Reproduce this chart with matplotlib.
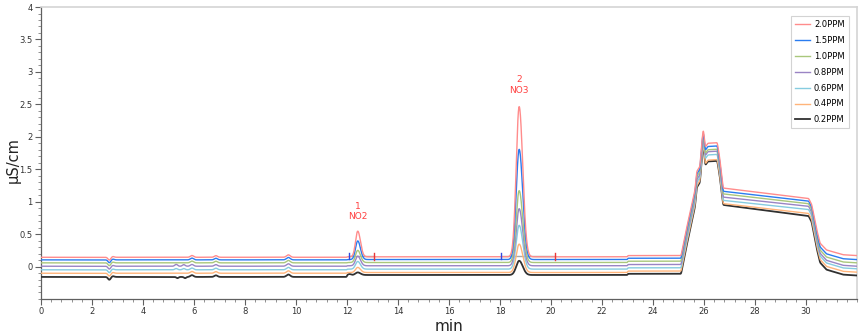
import numpy as np
import matplotlib
matplotlib.use("Agg")
import matplotlib.pyplot as plt
from matplotlib.ticker import MultipleLocator, FormatStrFormatter

# standards, top to bottom
labels = ["2.0PPM", "1.5PPM", "1.0PPM", "0.8PPM", "0.6PPM", "0.4PPM", "0.2PPM"]
colors = ["#ff8c8c", "#2a7cf0", "#a9c77c", "#9a84c4", "#86cce0", "#ffb47a", "#303030"]

# baseline level at the start of the run and just before the system peak (uS/cm)
base_start = [0.143, 0.103, 0.057, 0.005, -0.050, -0.103, -0.160]
base_mid = [0.150, 0.108, 0.062, 0.012, -0.040, -0.092, -0.130]
base_late = [0.169, 0.128, 0.082, 0.031, -0.020, -0.070, -0.112]

# NO2 (peak 1) and NO3 (peak 2) heights above baseline
no2_height = [0.40, 0.29, 0.19, 0.15, 0.12, 0.08, 0.04]
no3_height = [2.33, 1.71, 1.115, 0.885, 0.68, 0.44, 0.22]
no2_time = 12.42
no3_time = 18.75

# water / system hump at 25-31 min
hump_apex = [2.13, 2.09, 2.05, 2.01, 1.97, 1.92, 1.90]
hump_shoulder = [1.90, 1.85, 1.80, 1.77, 1.72, 1.64, 1.62]
plateau_start = [1.21, 1.16, 1.12, 1.07, 1.02, 0.97, 0.95]
plateau_end = [1.04, 1.00, 0.96, 0.92, 0.87, 0.81, 0.77]
base_end = [0.169, 0.107, 0.057, 0.005, -0.035, -0.087, -0.138]

# small baseline disturbances (time, height, width) shared by all traces
blips = [(2.68, -0.045, 0.05), (2.82, 0.012, 0.05), (5.92, 0.028, 0.06),
         (6.86, 0.025, 0.06), (9.70, 0.038, 0.07)]
# extra blips on the lower traces
extra_blips = {3: [(5.30, 0.03, 0.05), (5.60, 0.025, 0.05)],
               4: [(5.30, 0.02, 0.05), (5.60, 0.02, 0.05)],
               6: [(5.35, -0.02, 0.04), (5.65, -0.02, 0.04), (12.10, 0.015, 0.05)]}

# integration marks: (start, end) of each peak window
windows = [(12.08, 13.06), (18.04, 20.16)]

t = np.arange(0, 32.0001, 0.005)


def peak(t, t0, h, sl, sr):
    s = np.where(t < t0, sl, sr)
    return h * np.exp(-0.5 * ((t - t0) / s) ** 2)


def trace(i):
    y = np.where(t < 12.0, base_start[i], base_mid[i])
    y = np.where(t > 23.0, base_late[i], y)
    for tb, hb, wb in blips + extra_blips.get(i, []):
        y = y + peak(t, tb, hb, wb, wb)
    y = y + peak(t, no2_time, no2_height[i], 0.085, 0.105)
    y = y + peak(t, no3_time, no3_height[i], 0.115, 0.14)

    # hump as a polyline through the read levels
    b, a, s = base_late[i], hump_apex[i], hump_shoulder[i]
    ps, pe, e = plateau_start[i], plateau_end[i], base_end[i]
    d = pe - e
    ht = [25.10, 25.30, 25.50, 25.65, 25.71, 25.84, 25.91, 25.97, 26.05, 26.15,
          26.52, 26.62, 26.75, 30.10, 30.22, 30.42, 30.55, 30.80, 31.45, 32.0]
    hy = [b, b + 0.20 * (a - b), b + 0.38 * (a - b), b + 0.52 * (a - b),
          b + 0.66 * (a - b), b + 0.70 * (a - b), b + 0.88 * (a - b), a,
          s - 0.06, s, s + 0.01, s - 0.35 * (s - ps), ps, pe + 0.01, pe - 0.08,
          e + 0.46 * d, e + 0.22 * d, e + 0.10 * d, e + 0.015 * d, e]
    m = t >= ht[0]
    y = np.where(m, np.interp(t, ht, hy), y)
    # soften the polyline corners
    k = np.exp(-0.5 * (np.arange(-8, 9) / 3.0) ** 2)
    k /= k.sum()
    ys = np.convolve(np.pad(y, 8, mode="edge"), k, mode="same")[8:-8]
    return ys


fig = plt.figure(figsize=(8.67, 3.35), dpi=100)
ax = fig.add_axes([0.0473, 0.1075, 0.9412, 0.8715])

for i in range(len(labels))[::-1]:
    lw = 1.3 if i == 6 else 1.0
    ax.plot(t, trace(i), color=colors[i], lw=lw, label=labels[i], zorder=3 + (6 - i) * 0.01)

# integration baseline and start/end ticks
for ws, we in windows:
    lvl = base_mid[0] + 0.005
    ax.plot([ws, we], [lvl, lvl], color="#a8a8a8", lw=1.0, zorder=2)
    ax.plot([ws, ws], [lvl - 0.04, lvl + 0.05], color="#3048e0", lw=1.0, zorder=4)
    ax.plot([we, we], [lvl - 0.05, lvl + 0.05], color="#e83838", lw=1.0, zorder=4)

ax.text(no2_time, 0.92, "1", color="#ff4040", fontsize=6.5, ha="center", va="center")
ax.text(no2_time, 0.77, "NO2", color="#ff4040", fontsize=6.5, ha="center", va="center")
ax.text(no3_time, 2.88, "2", color="#ff4040", fontsize=6.5, ha="center", va="center")
ax.text(no3_time, 2.71, "NO3", color="#ff4040", fontsize=6.5, ha="center", va="center")

ax.set_xlim(0, 32)
ax.set_ylim(-0.5, 4)
ax.set_xticks(np.arange(0, 31, 2))
ax.set_yticks(np.arange(0, 4.01, 0.5))
ax.xaxis.set_minor_locator(MultipleLocator(0.4))
ax.yaxis.set_minor_locator(MultipleLocator(0.1))
ax.yaxis.set_major_formatter(FormatStrFormatter("%g"))
ax.tick_params(which="major", length=4, width=0.8, color="#606060",
               labelsize=6, labelcolor="#333333", pad=2)
ax.tick_params(which="minor", length=2, width=0.6, color="#808080")

for side in ["left", "bottom"]:
    ax.spines[side].set_color("#606060")
    ax.spines[side].set_linewidth(0.9)
for side in ["top", "right"]:
    ax.spines[side].set_color("#d4d4d4")
    ax.spines[side].set_linewidth(1.2)

ax.set_xlabel("min", fontsize=11, color="#222222", labelpad=2)
ax.set_ylabel("µS/cm", fontsize=10.5, color="#222222")
ax.yaxis.set_label_coords(-0.025, 0.476)

handles, names = ax.get_legend_handles_labels()
leg = ax.legend(handles[::-1], names[::-1], loc="upper right",
                bbox_to_anchor=(0.990, 0.969), fontsize=6.0, frameon=True,
                fancybox=False, edgecolor="#c8c8c8", handlelength=1.8,
                handletextpad=0.45, labelspacing=0.82, borderpad=0.5,
                borderaxespad=0.0)
leg.get_frame().set_linewidth(0.8)

fig.savefig("out.png", dpi=100)
